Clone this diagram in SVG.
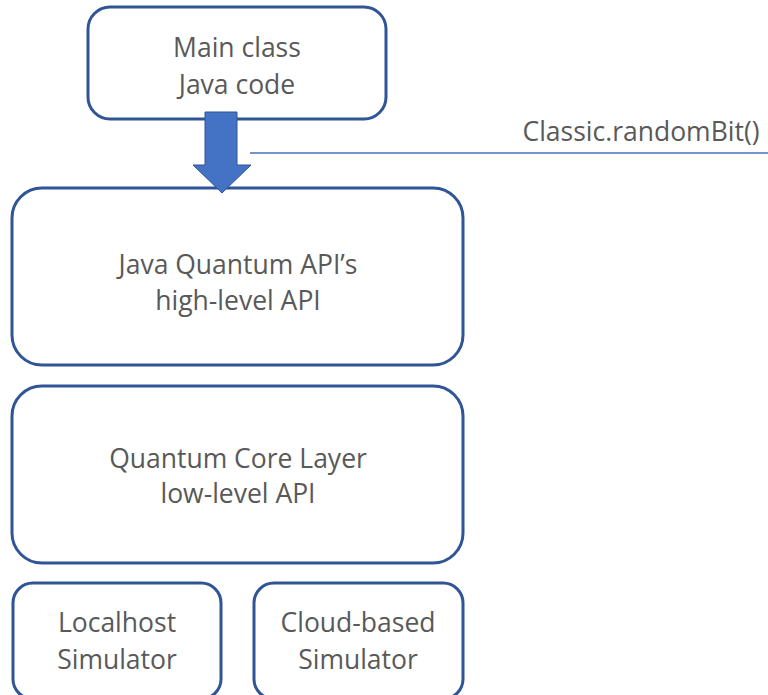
<svg xmlns="http://www.w3.org/2000/svg" width="768" height="695" viewBox="0 0 768 695">
  <style>
    .box { fill: #ffffff; stroke: #2F5597; stroke-width: 3; }
    .lbl { font-family: "Open Sans", "Liberation Sans", sans-serif; font-size: 26.5px; fill: #595959; text-anchor: middle; }
  </style>
  <rect width="768" height="695" fill="#ffffff"/>

  <g id="main-class">
    <rect class="box" x="88" y="7" width="298" height="112" rx="22"/>
    <text class="lbl" x="237" y="57">Main class</text>
    <text class="lbl" x="237" y="94">Java code</text>
  </g>

  <g id="high-level-api">
    <rect class="box" x="12" y="188" width="451" height="177" rx="30"/>
    <text class="lbl" x="238" y="274">Java Quantum API’s</text>
    <text class="lbl" x="238" y="310">high-level API</text>
  </g>

  <g id="core-layer">
    <rect class="box" x="12" y="386" width="451" height="177" rx="30"/>
    <text class="lbl" x="238" y="468">Quantum Core Layer</text>
    <text class="lbl" x="238" y="503">low-level API</text>
  </g>

  <g id="localhost-sim">
    <rect class="box" x="13" y="583" width="208" height="116" rx="20"/>
    <text class="lbl" x="117" y="632">Localhost</text>
    <text class="lbl" x="117" y="669">Simulator</text>
  </g>

  <g id="cloud-sim">
    <rect class="box" x="254" y="583" width="209" height="116" rx="20"/>
    <text class="lbl" x="358" y="632">Cloud-based</text>
    <text class="lbl" x="358" y="669">Simulator</text>
  </g>

  <g id="connectors">
    <polygon points="205,112 237,112 237,165 251,165 222,193 193,165 205,165" fill="#4472C4" stroke="#2F5597" stroke-width="1"/>
    <line x1="250" y1="153" x2="768" y2="153" stroke="#4472C4" stroke-width="1.3"/>
    <text class="lbl" x="641" y="141">Classic.randomBit()</text>
  </g>
</svg>
